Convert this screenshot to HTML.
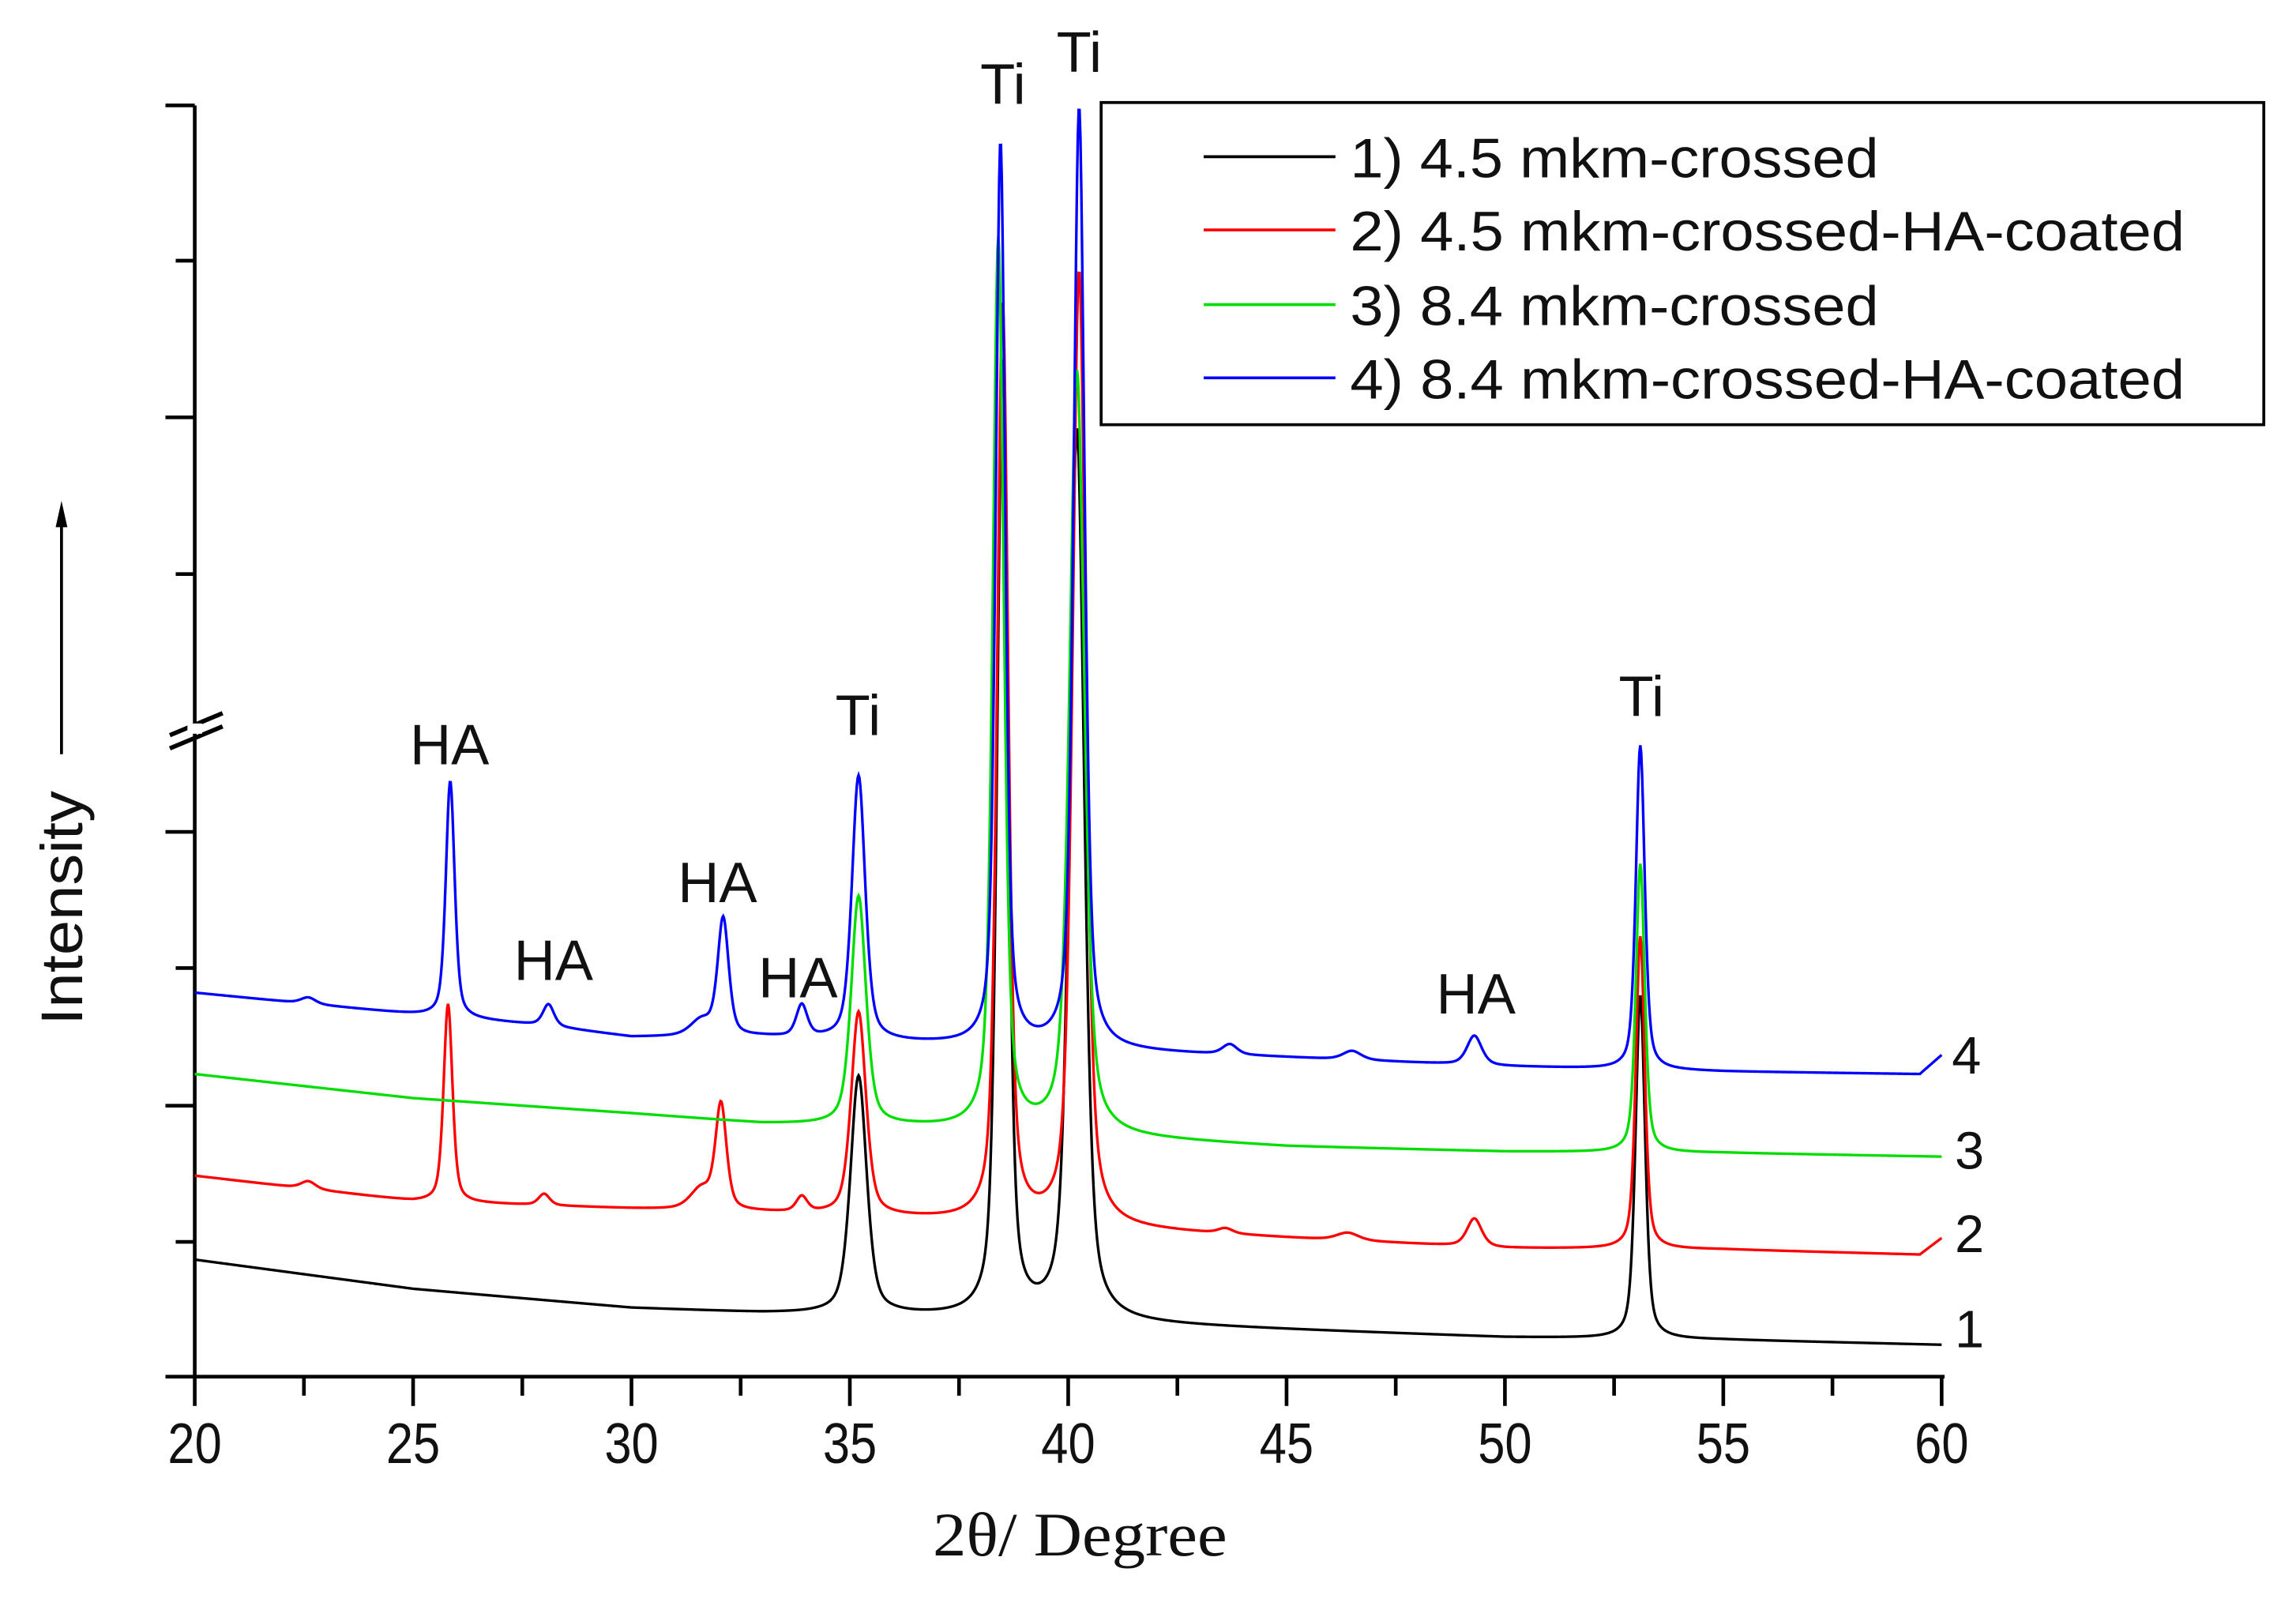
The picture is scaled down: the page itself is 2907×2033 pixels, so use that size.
<!DOCTYPE html>
<html><head><meta charset="utf-8"><style>
html,body{margin:0;padding:0;background:#fff;}
svg{display:block;}
.t{font-family:"Liberation Sans",Arial,sans-serif;fill:#111;}
.s{font-family:"Liberation Serif",serif;fill:#111;}
</style></head><body>
<svg id="chart" width="2907" height="2033" viewBox="0 0 1568 1096.6" preserveAspectRatio="none" xmlns="http://www.w3.org/2000/svg">
<rect width="1568" height="1096.6" fill="#fff"/>
<g id="axes" stroke="#000" stroke-width="2.5" fill="none">
 <line x1="113" y1="940" x2="1328" y2="940"/>
 <line x1="133" y1="72" x2="133" y2="940"/>
 <line x1="116" y1="502" x2="152" y2="487" stroke-width="3"/>
 <line x1="116" y1="511" x2="152" y2="496" stroke-width="3"/>
</g>
<rect x="128" y="494" width="10" height="7" fill="#fff"/>
<g id="yticks" stroke="#000" stroke-width="2.5"></g>
<g id="xticks"></g>
<g id="series"></g>
<g id="yl">
 <text class="t" font-size="40" text-anchor="middle" textLength="160" lengthAdjust="spacingAndGlyphs" transform="translate(56,620) rotate(-90)">Intensity</text>
 <line x1="42" y1="515" x2="42" y2="355" stroke="#000" stroke-width="2"/>
 <polygon points="42,342 38,360 46,360" fill="#000"/>
</g>
<text class="s" font-size="42" x="637" y="1062" textLength="201" lengthAdjust="spacingAndGlyphs">2θ/  Degree</text>
<g>
 <rect x="752" y="70" width="794" height="220" fill="#fff" stroke="#000" stroke-width="2"/>
 <line x1="822" y1="107" x2="912" y2="107" stroke="#000" stroke-width="2"/>
 <text class="t" font-size="38" x="922" y="121" textLength="361" lengthAdjust="spacingAndGlyphs">1) 4.5 mkm-crossed</text>
 <line x1="822" y1="157" x2="912" y2="157" stroke="#ff0000" stroke-width="2"/>
 <text class="t" font-size="38" x="922" y="171" textLength="570" lengthAdjust="spacingAndGlyphs">2) 4.5 mkm-crossed-HA-coated</text>
 <line x1="822" y1="208" x2="912" y2="208" stroke="#00dd00" stroke-width="2"/>
 <text class="t" font-size="38" x="922" y="222" textLength="361" lengthAdjust="spacingAndGlyphs">3) 8.4 mkm-crossed</text>
 <line x1="822" y1="258" x2="912" y2="258" stroke="#0000ff" stroke-width="2"/>
 <text class="t" font-size="38" x="922" y="272" textLength="570" lengthAdjust="spacingAndGlyphs">4) 8.4 mkm-crossed-HA-coated</text>
</g>
<g class="t" font-size="36">
 <text class="t" x="1333" y="733">4</text>
 <text class="t" x="1335" y="798">3</text>
 <text class="t" x="1335" y="855">2</text>
 <text class="t" x="1335" y="920">1</text>
</g>
<g font-size="39" text-anchor="middle">
 <text class="t" x="307" y="522">HA</text>
 <text class="t" x="378" y="669">HA</text>
 <text class="t" x="490" y="616">HA</text>
 <text class="t" x="545" y="681">HA</text>
 <text class="t" x="586" y="502">Ti</text>
 <text class="t" x="685" y="71">Ti</text>
 <text class="t" x="737" y="49">Ti</text>
 <text class="t" x="1121" y="489">Ti</text>
 <text class="t" x="1008" y="692">HA</text>
</g>
</svg>
<script>
const xTickLabels = [20,25,30,35,40,45,50,55,60];
const yTickPx = [72,178,285,392,568,661,755,848];
const s1BaseX = [20,25,30,33,36,45,50,55,60];
const s1BaseY = [9.2,6.9,5.4,5.0,4.8,3.7,3.1,2.9,2.5];
const s1Peaks = [[35.2,18.7,0.22],[38.5,75,0.15],[40.2,70,0.2],[53.1,27,0.13]];
const s2BaseX = [20,25,30,33,36.5,45,50,55,59.5,60];
const s2BaseY = [15.8,13.8,13.2,12.9,12.4,10.9,10.1,10.0,9.6,10.9];
const s2Peaks = [[22.6,0.6,0.2],[25.8,15.6,0.12],[28.0,0.9,0.15],[31.6,1.6,0.3],[32.05,8.2,0.15],[33.9,1.2,0.15],[35.2,16,0.2],[38.5,72,0.15],[40.25,75,0.18],[43.6,0.4,0.2],[46.4,0.6,0.3],[49.3,2.2,0.2],[53.1,24.6,0.12]];
const s3BaseX = [20,25,30,33,36.5,45,50,55,60];
const s3BaseY = [23.8,21.9,20.7,19.9,19.6,18.1,17.7,17.6,17.3];
const s3Peaks = [[35.2,18,0.2],[38.4,70,0.15],[40.2,60,0.2],[53.1,22.7,0.12]];
const s4BaseX = [20,25,28,30,33,36.5,45,50,55,59.5,60];
const s4BaseY = [30.2,28.5,27.6,26.7,26.7,26.2,25.1,24.4,24.0,23.8,25.3];
const s4Peaks = [[22.6,0.5,0.2],[25.85,18.6,0.12],[28.1,1.7,0.15],[31.6,1.2,0.3],[32.1,9.2,0.15],[33.9,2.5,0.15],[35.2,20.8,0.18],[38.45,71,0.13],[40.25,74,0.15],[43.7,0.8,0.2],[46.5,0.7,0.25],[49.3,2.3,0.2],[53.1,25.5,0.12]];

const NS='http://www.w3.org/2000/svg';
function xs(v){return 133+(v-20)*(1326-133)/40;}
function ys(v){return 940-v*8.68;}
function interp(bx,by,x){
  if(x<=bx[0])return by[0];
  for(let i=1;i<bx.length;i++){if(x<=bx[i]){const t=(x-bx[i-1])/(bx[i]-bx[i-1]);return by[i-1]+t*(by[i]-by[i-1]);}}
  return by[by.length-1];
}
function val(bx,by,pk,x){
  let v=interp(bx,by,x);
  for(const p of pk){const d=(x-p[0])/p[2];v+=p[1]*(0.5/(1+d*d)+0.5*Math.exp(-0.693*d*d));}
  return v;
}
const yt=document.getElementById('yticks');
yTickPx.forEach((p,i)=>{const l=document.createElementNS(NS,'line');


l.setAttribute('x1',i%2===0?113:120);l.setAttribute('x2',133);l.setAttribute('y1',p);l.setAttribute('y2',p);yt.appendChild(l);});
const xt=document.getElementById('xticks');
for(let v=20;v<=60;v+=2.5){const l=document.createElementNS(NS,'line');


const maj=(v%5===0);l.setAttribute('x1',xs(v));l.setAttribute('x2',xs(v));l.setAttribute('y1',940);l.setAttribute('y2',maj?960:953);
l.setAttribute('stroke','#000');l.setAttribute('stroke-width','2.5');xt.appendChild(l);}
xTickLabels.forEach(v=>{const t=document.createElementNS(NS,'text');


t.setAttribute('class','t');t.setAttribute('font-size','39');t.setAttribute('text-anchor','middle');
t.setAttribute('transform','translate('+xs(v)+',999) scale(0.85,1)');t.textContent=v;xt.appendChild(t);});
const sg=document.getElementById('series');
const defs=[[s1BaseX,s1BaseY,s1Peaks,'#000000','series-1-4.5-crossed'],[s2BaseX,s2BaseY,s2Peaks,'#ff0000','series-2-4.5-coated'],[s3BaseX,s3BaseY,s3Peaks,'#00dd00','series-3-8.4-crossed'],[s4BaseX,s4BaseY,s4Peaks,'#0000ff','series-4-8.4-coated']];
defs.forEach(d=>{let pts=[];for(let x=20;x<=60.0001;x+=0.02){pts.push(xs(x).toFixed(2)+','+ys(Math.min(val(d[0],d[1],d[2],x),100)).toFixed(2));}
const pl=document.createElementNS(NS,'polyline');


pl.setAttribute('points',pts.join(' '));pl.setAttribute('fill','none');pl.setAttribute('stroke',d[3]);pl.setAttribute('stroke-width','1.8');sg.appendChild(pl);});
</script>
</body></html>
